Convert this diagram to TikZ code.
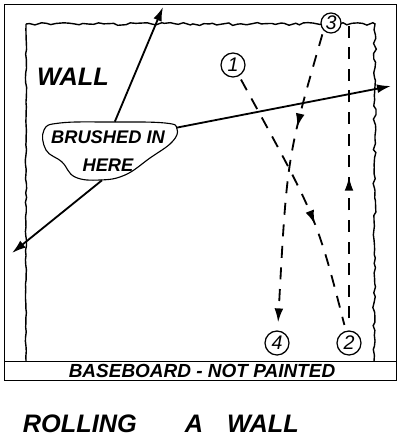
\documentclass[tikz,border=0pt]{standalone}
\usepackage{fontspec}
\setmainfont{Liberation Sans}
\usepackage{tikz}
\usetikzlibrary{arrows.meta,positioning,decorations.pathmorphing,decorations.markings}

\begin{document}
\begin{tikzpicture}[
  x=0.25mm, y=-0.25mm,
  font=\bfseries\itshape,
  wavy/.style={line width=1pt, decorate,
               decoration={random steps, segment length=1.2mm, amplitude=0.35mm}},
  num/.style={circle, draw, fill=white, line width=0.9pt, minimum size=6mm,
              inner sep=0pt, font=\itshape\fontsize{14}{14}\selectfont},
  arr/.style={-{Latex[length=3.5mm, width=2.2mm]}, line width=1.3pt},
  roll/.style={dash pattern=on 3mm off 2.4mm, line width=1.3pt},
  midarr/.style={postaction={decorate}, decoration={markings,
              mark=at position #1 with {\arrow{Latex[length=3.5mm, width=2.2mm]}}}}
]
  \useasboundingbox (0,0) rectangle (400,437);
  \pgfmathsetseed{7}
  % frame and baseboard
  \draw[line width=0.5pt] (4,4) rectangle (396,380);
  \draw[line width=0.5pt] (4,361) -- (396,361);
  \node (base) at (202,371) {\fontsize{13.5}{13.5}\selectfont BASEBOARD - NOT PAINTED};
  % wall edges
  \draw[wavy, decoration={amplitude=0.15mm}] (26,361) -- (26,24);
  \draw[wavy] (26,24) -- (375,24) -- (374,361);
  \node (wall) at (73,77) {\fontsize{18}{18}\selectfont WALL};
  % brushed area
  \draw[line width=0.8pt] plot[smooth cycle, tension=0.7] coordinates {
    (44,130) (60,123) (110,122) (165,123) (177,129) (172,142) (150,158)
    (125,175) (100,180) (75,177) (62,162) (46,150)};
  \node[minimum width=34mm, minimum height=14.5mm, align=center,
        font=\bfseries\itshape\fontsize{13}{20}\selectfont] (brush) at (108,151)
        {BRUSHED IN\\HERE};
  \coordinate (tipU) at (163,7);
  \coordinate (tipR) at (391,86);
  \coordinate (tipL) at (12,253);
  \draw[arr] ([xshift=1.7mm]brush.north) -- (tipU);
  \draw[arr] ([yshift=-1.5mm]brush.north east) -- (tipR);
  \draw[arr] ([xshift=-1.5mm]brush.south) -- (tipL);
  % roller strokes
  \node[num] (c1) at (233,65) {1};
  \node[num, minimum size=5mm] (c3) at (331,23) {3};
  \node[num] (c4) at (277,343) {4};
  \node[num] (c2) at (349,343) {2};
  \draw[roll, midarr=0.6, shorten <=1mm, shorten >=1.5mm]
    (c1) .. controls (317,218) .. (c2);
  \draw[roll, midarr=0.5, shorten <=3mm] (c2) -- (c2 |- c3);
  \draw[roll, midarr=0.33, shorten <=1mm, shorten >=2mm,
        -{Latex[length=3.5mm, width=2.2mm]}]
    (c3.south west) .. controls (287,157) .. (c4);
  % caption
  \node[anchor=base west, font=\bfseries\itshape\fontsize{18}{18}\selectfont]
    (title) at (18,432) {ROLLING\hspace{12mm}A\hspace{6mm}WALL};
\end{tikzpicture}
\end{document}
